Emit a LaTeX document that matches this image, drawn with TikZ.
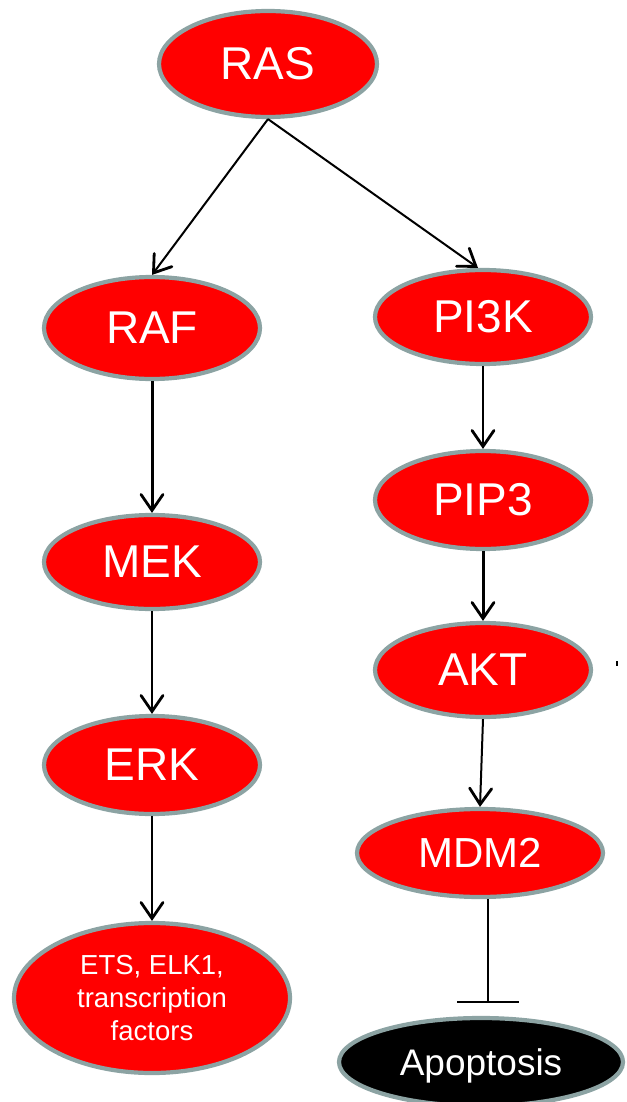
\documentclass[tikz,border=0pt]{standalone}
\usepackage{fontspec}
\setmainfont{Liberation Sans}
\usetikzlibrary{shapes.geometric,arrows.meta}
\definecolor{rimgray}{HTML}{8CA3A3}
\tikzset{
  mol/.style={ellipse, draw=rimgray, line width=4.2pt, fill=red, text=white,
    inner sep=0pt, align=center, font=\fontsize{46}{50}\selectfont},
  vtip/.tip={Straight Barb[length=16pt,width=22pt,line width=2.8pt,line cap=round]},
  link/.style={-vtip, line width=2pt},
  boldlink/.style={-vtip, line width=3pt},
  blocklink/.style={line width=1.8pt},
}
\begin{document}
\begin{tikzpicture}[x=1pt,y=-1pt]
\useasboundingbox (0,0) rectangle (626,1102);
\clip (0,0) rectangle (626,1102);

% MAPK branch
\node[mol, minimum width=218pt, minimum height=106pt] (ras) at (268,64) {RAS};
\node[mol, minimum width=216pt, minimum height=102pt] (raf) at (152,328) {RAF};
\node[mol, minimum width=216pt, minimum height=94pt] (mek) at (152,562) {MEK};
\node[mol, minimum width=216pt, minimum height=98pt] (erk) at (152,765) {ERK};
\node[mol, minimum width=276pt, minimum height=150pt,
      font=\fontsize{27.5}{33}\selectfont] (ets) at (152,998)
      {ETS, ELK1,\\transcription\\factors};

% PI3K branch
\node[mol, minimum width=216pt, minimum height=94pt] (pi3k) at (483,317) {PI3K};
\node[mol, minimum width=216pt, minimum height=98pt] (pip3) at (483,500) {PIP3};
\node[mol, minimum width=216pt, minimum height=94pt] (akt) at (483,670) {AKT};
\node[mol, minimum width=246pt, minimum height=88pt,
      font=\fontsize{42}{46}\selectfont] (mdm2) at (480,853) {MDM2};
\node[mol, fill=black, minimum width=284pt, minimum height=88pt, text depth=0pt,
      font=\fontsize{37}{40}\selectfont] (apop) at (481,1062) {Apoptosis};

% activation arrows
\coordinate (pi3ktop) at ([xshift=-5pt]pi3k.north);
\draw[link] (ras.south) -- (raf.north);
\draw[link] (ras.south) -- (pi3ktop);
\draw[boldlink] (raf.south) -- (mek.north);
\draw[link] (mek.south) -- (erk.north);
\draw[link] (erk.south) -- (ets.north);
\draw[link] (pi3k.south) -- (pip3.north);
\draw[boldlink] (pip3.south) -- (akt.north);
\draw[link] (akt.south) -- (mdm2.north);

% inhibition of apoptosis
\coordinate (bar) at (488,1002);
\draw[blocklink] (mdm2.south -| bar) -- (bar);
\draw[blocklink] ([xshift=-31pt]bar) -- ([xshift=31pt]bar);

% small mark at the right edge
\draw[line width=1.2pt] (617,661) -- (617,666);
\end{tikzpicture}
\end{document}
